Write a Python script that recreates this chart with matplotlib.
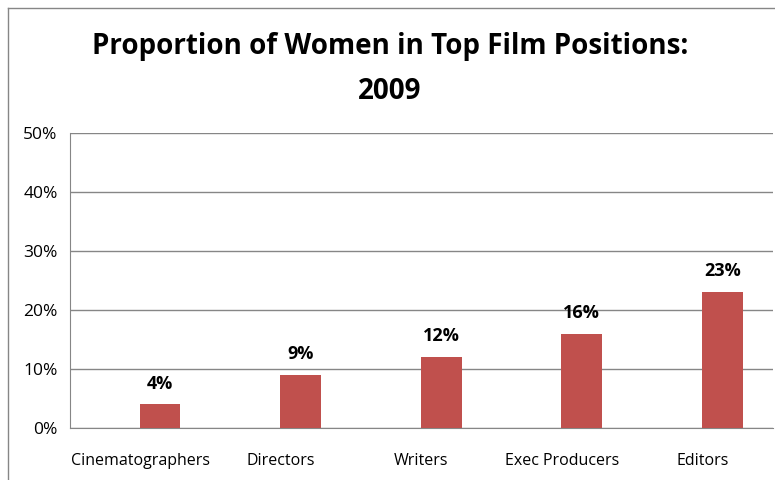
import matplotlib.pyplot as plt
from matplotlib.lines import Line2D

categories = ['Cinematographers', 'Directors', 'Writers', 'Exec Producers', 'Editors']
values = [4, 9, 12, 16, 23]
yticks = [0, 10, 20, 30, 40, 50]

plt.rcParams['font.family'] = ['Open Sans', 'DejaVu Sans']

fig = plt.figure(figsize=(7.75, 4.8), dpi=100)
ax = fig.add_axes([70 / 775, 52 / 480, 703 / 775, 295 / 480])

x = list(range(len(categories)))
bar_x = [i + 0.14 for i in x]
ax.bar(bar_x, values, width=0.29, color='#C0504D', zorder=3)

for bx, v in zip(bar_x, values):
    ax.text(bx, v + 2.0, f'{v}%', ha='center', va='bottom',
            fontsize=13, fontweight='bold')

ax.set_xlim(-0.5, len(categories) - 0.5)
ax.set_ylim(0, 50)
ax.set_yticks(yticks)
ax.set_yticklabels([f'{t}%' for t in yticks], fontsize=12.5)
ax.set_xticks(x)
ax.set_xticklabels(categories, fontsize=11.5)
ax.tick_params(axis='y', length=0, pad=9)
ax.tick_params(axis='x', length=0, pad=18)
ax.grid(axis='y', color='#868686', linewidth=1, zorder=0)
for side in ['top', 'right']:
    ax.spines[side].set_visible(False)
for side in ['left', 'bottom']:
    ax.spines[side].set_color('#868686')

fig.text(0.503, 0.903, 'Proportion of Women in Top Film Positions:',
         ha='center', va='center', fontsize=20, fontweight='bold')
fig.text(0.503, 0.81, '2009', ha='center', va='center',
         fontsize=20, fontweight='bold')

# chart border (cropped at right and bottom)
fig.add_artist(Line2D([8 / 775, 8 / 775], [0, 1 - 8 / 480], color='#868686', lw=1))
fig.add_artist(Line2D([8 / 775, 1], [1 - 8 / 480, 1 - 8 / 480], color='#868686', lw=1))

fig.savefig('out.png', dpi=100)
